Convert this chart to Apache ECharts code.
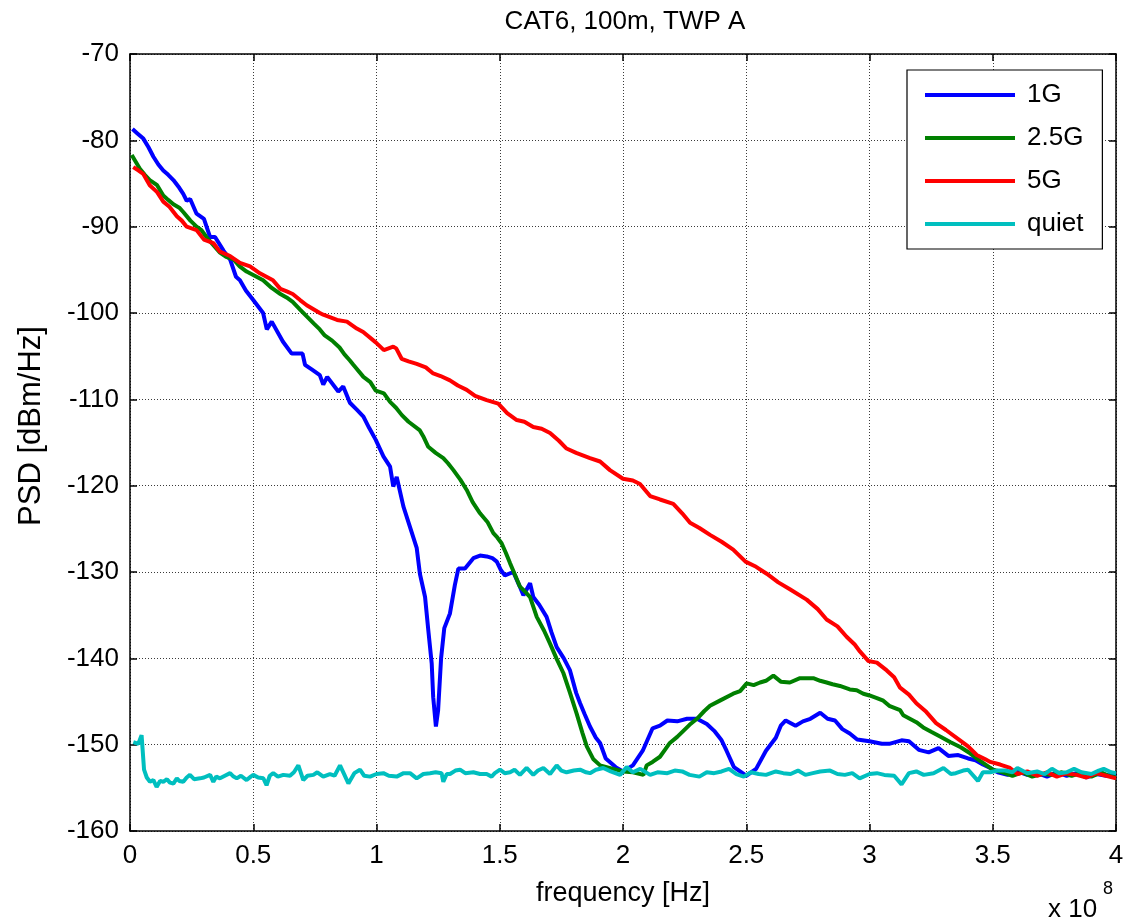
<!DOCTYPE html>
<html>
<head>
<meta charset="utf-8">
<script src="https://cdn.jsdelivr.net/npm/echarts@6/dist/echarts.min.js"></script>
<style>
html,body{margin:0;padding:0;background:#fff;}
#chart{width:1132px;height:923px;}
</style>
</head>
<body>
<div id="chart"></div>
<script>
// frequency in units of 1e8 Hz, PSD in dBm/Hz
const seriesNames = ['1G', '2.5G', '5G', 'quiet'];
const seriesColors = ['#0000ff', '#008000', '#ff0000', '#00bfbf'];

const data1G = [[0.01,-78.7],[0.03,-79.2],[0.054,-79.8],[0.075,-80.8],[0.095,-81.9],[0.115,-82.8],[0.135,-83.5],[0.155,-84.0],[0.176,-84.6],[0.2,-85.5],[0.216,-86.2],[0.23,-87.0],[0.244,-86.8],[0.27,-88.5],[0.3,-89.1],[0.325,-91.2],[0.345,-91.2],[0.38,-92.8],[0.406,-93.8],[0.43,-95.8],[0.446,-96.2],[0.47,-97.4],[0.5,-98.5],[0.54,-100.0],[0.555,-101.9],[0.575,-101.0],[0.62,-103.3],[0.656,-104.7],[0.70,-104.7],[0.71,-106.0],[0.74,-106.6],[0.77,-107.2],[0.784,-108.3],[0.80,-107.4],[0.845,-109.1],[0.865,-108.5],[0.892,-110.4],[0.92,-111.2],[0.947,-112.0],[0.97,-113.3],[0.997,-114.7],[1.028,-116.6],[1.055,-117.8],[1.068,-120.1],[1.082,-119.0],[1.109,-122.4],[1.136,-124.8],[1.163,-127.2],[1.176,-130.2],[1.197,-132.9],[1.21,-136.7],[1.224,-140.6],[1.23,-144.5],[1.241,-147.9],[1.25,-146.0],[1.262,-140.0],[1.275,-136.5],[1.298,-134.8],[1.318,-131.5],[1.332,-129.6],[1.359,-129.6],[1.393,-128.4],[1.42,-128.1],[1.447,-128.2],[1.47,-128.4],[1.488,-128.8],[1.505,-129.8],[1.521,-130.4],[1.555,-130.0],[1.58,-131.6],[1.596,-132.7],[1.623,-131.3],[1.636,-132.9],[1.66,-133.8],[1.69,-135.2],[1.71,-137.0],[1.731,-138.7],[1.76,-140.0],[1.785,-141.4],[1.81,-144.0],[1.826,-145.2],[1.845,-146.5],[1.866,-147.9],[1.89,-149.2],[1.907,-149.8],[1.93,-151.6],[1.97,-152.6],[2.0,-153.1],[2.04,-152.4],[2.08,-150.7],[2.12,-148.1],[2.15,-147.8],[2.18,-147.2],[2.22,-147.3],[2.26,-147.0],[2.3,-147.0],[2.34,-147.6],[2.37,-148.4],[2.4,-149.5],[2.42,-150.7],[2.45,-152.6],[2.5,-153.6],[2.54,-152.8],[2.58,-150.7],[2.62,-149.2],[2.64,-147.8],[2.66,-147.2],[2.7,-147.8],[2.73,-147.3],[2.76,-147.0],[2.8,-146.3],[2.83,-147.0],[2.86,-147.2],[2.89,-148.2],[2.92,-148.7],[2.95,-149.4],[3.0,-149.6],[3.05,-149.9],[3.08,-149.9],[3.13,-149.5],[3.16,-149.6],[3.2,-150.6],[3.24,-150.9],[3.28,-150.4],[3.32,-151.3],[3.36,-151.2],[3.4,-151.6],[3.43,-151.8],[3.46,-152.3],[3.49,-152.7],[3.52,-153.2],[3.56,-153.5],[3.6,-153.1],[3.64,-153.5],[3.68,-153.3],[3.72,-153.7],[3.76,-153.2],[3.8,-153.6],[3.84,-153.3],[3.88,-153.8],[3.92,-153.4],[3.96,-153.6],[4.0,-153.4]];

const data2_5G = [[0.007,-81.7],[0.04,-83.3],[0.06,-84.0],[0.08,-84.6],[0.11,-85.2],[0.135,-86.4],[0.155,-86.9],[0.176,-87.4],[0.2,-87.8],[0.216,-88.3],[0.245,-89.3],[0.27,-90.0],[0.29,-90.4],[0.31,-91.2],[0.34,-92.2],[0.365,-93.0],[0.39,-93.5],[0.42,-93.8],[0.445,-94.6],[0.473,-95.2],[0.5,-95.6],[0.54,-96.2],[0.575,-97.1],[0.61,-97.8],[0.635,-98.2],[0.66,-98.7],[0.69,-99.6],[0.717,-100.4],[0.745,-101.2],[0.77,-101.9],[0.79,-102.6],[0.82,-103.2],[0.85,-104.0],[0.87,-104.8],[0.892,-105.5],[0.906,-106.0],[0.947,-107.4],[0.975,-108.0],[0.997,-109.0],[1.03,-109.3],[1.055,-110.3],[1.08,-111.0],[1.102,-111.8],[1.13,-112.6],[1.176,-113.6],[1.19,-114.3],[1.21,-115.5],[1.24,-116.2],[1.271,-116.8],[1.29,-117.4],[1.312,-118.2],[1.34,-119.3],[1.366,-120.5],[1.39,-121.9],[1.42,-123.2],[1.45,-124.2],[1.474,-125.5],[1.49,-126.0],[1.508,-126.7],[1.525,-127.8],[1.542,-129.0],[1.56,-130.2],[1.582,-131.7],[1.6,-132.2],[1.623,-132.9],[1.65,-135.2],[1.68,-136.8],[1.704,-138.3],[1.73,-140.0],[1.758,-141.7],[1.785,-144.0],[1.812,-146.4],[1.835,-148.6],[1.853,-150.2],[1.88,-151.7],[1.907,-152.4],[1.96,-152.8],[2.0,-153.1],[2.04,-153.2],[2.083,-153.5],[2.096,-152.4],[2.12,-152.0],[2.15,-151.4],[2.17,-150.6],[2.19,-149.8],[2.22,-149.1],[2.245,-148.4],[2.27,-147.7],[2.3,-147.0],[2.33,-146.1],[2.353,-145.5],[2.393,-144.9],[2.447,-144.1],[2.475,-143.8],[2.502,-142.9],[2.53,-143.1],[2.556,-142.8],[2.58,-142.6],[2.61,-142.0],[2.64,-142.7],[2.677,-142.8],[2.718,-142.3],[2.745,-142.3],[2.772,-142.3],[2.8,-142.6],[2.826,-142.8],[2.85,-143.0],[2.88,-143.2],[2.92,-143.6],[2.948,-143.7],[2.975,-144.1],[3.0,-144.3],[3.03,-144.6],[3.056,-144.9],[3.08,-145.5],[3.124,-146.0],[3.137,-146.6],[3.19,-147.4],[3.218,-148.0],[3.25,-148.5],[3.29,-149.1],[3.327,-149.7],[3.37,-150.3],[3.408,-151.0],[3.44,-151.7],[3.475,-152.4],[3.5,-152.9],[3.54,-153.2],[3.58,-153.6],[3.62,-153.2],[3.66,-153.7],[3.7,-153.4],[3.74,-153.5],[3.78,-153.2],[3.82,-153.6],[3.86,-153.3],[3.9,-153.7],[3.94,-153.2],[3.97,-153.6],[4.0,-153.8]];

const data5G = [[0.013,-83.1],[0.035,-83.5],[0.054,-83.9],[0.08,-85.2],[0.11,-86.0],[0.135,-87.1],[0.16,-87.7],[0.19,-88.8],[0.21,-89.3],[0.23,-90.0],[0.27,-90.4],[0.3,-91.5],[0.338,-91.9],[0.365,-92.9],[0.406,-93.4],[0.446,-94.2],[0.487,-94.6],[0.527,-95.4],[0.58,-96.2],[0.61,-97.2],[0.636,-97.5],[0.66,-97.8],[0.69,-98.5],[0.717,-99.1],[0.77,-100.0],[0.784,-100.2],[0.84,-100.8],[0.88,-101.0],[0.92,-101.8],[0.946,-102.2],[0.997,-103.4],[1.03,-104.3],[1.068,-103.9],[1.08,-104.1],[1.102,-105.3],[1.13,-105.6],[1.163,-105.9],[1.2,-106.3],[1.23,-107.0],[1.26,-107.3],[1.298,-107.8],[1.33,-108.4],[1.366,-108.9],[1.4,-109.6],[1.447,-110.1],[1.494,-110.5],[1.53,-111.6],[1.569,-112.4],[1.6,-112.6],[1.636,-113.2],[1.67,-113.4],[1.704,-113.9],[1.74,-114.8],[1.771,-115.7],[1.81,-116.2],[1.866,-116.8],[1.907,-117.2],[1.947,-118.2],[2.0,-119.2],[2.04,-119.4],[2.069,-119.8],[2.11,-121.2],[2.15,-121.6],[2.204,-122.1],[2.24,-123.2],[2.272,-124.3],[2.31,-124.9],[2.353,-125.7],[2.4,-126.5],[2.447,-127.4],[2.497,-128.8],[2.54,-129.4],[2.583,-130.2],[2.63,-131.2],[2.677,-132.0],[2.745,-133.2],[2.79,-134.3],[2.826,-135.5],[2.87,-136.3],[2.907,-137.5],[2.94,-138.4],[2.961,-139.2],[2.995,-140.3],[3.03,-140.5],[3.07,-141.4],[3.1,-142.2],[3.124,-143.4],[3.16,-144.2],[3.19,-145.2],[3.23,-146.2],[3.27,-147.5],[3.31,-148.3],[3.367,-149.5],[3.4,-150.2],[3.435,-151.2],[3.47,-151.7],[3.49,-152.0],[3.53,-152.3],[3.57,-152.7],[3.6,-153.4],[3.64,-153.1],[3.68,-153.6],[3.72,-153.2],[3.76,-153.7],[3.8,-153.3],[3.84,-153.5],[3.88,-153.8],[3.92,-153.3],[3.96,-153.6],[4.0,-153.9]];

const dataQuiet = [[0.0135,-149.7],[0.034,-149.9],[0.047,-148.9],[0.057,-152.9],[0.068,-153.8],[0.081,-154.3],[0.095,-154.1],[0.108,-154.9],[0.122,-154.2],[0.135,-154.3],[0.15,-154.0],[0.162,-154.4],[0.176,-154.5],[0.19,-153.9],[0.2,-154.2],[0.216,-154.3],[0.23,-153.8],[0.243,-153.5],[0.26,-154.0],[0.284,-153.9],[0.3,-153.8],[0.325,-153.5],[0.338,-154.3],[0.35,-153.7],[0.365,-153.9],[0.385,-153.6],[0.406,-153.3],[0.42,-153.7],[0.433,-153.9],[0.45,-153.6],[0.473,-154.1],[0.49,-153.7],[0.5,-153.5],[0.52,-153.8],[0.541,-153.9],[0.554,-154.7],[0.567,-153.6],[0.581,-153.3],[0.6,-153.7],[0.622,-153.5],[0.649,-153.6],[0.665,-153.2],[0.683,-152.4],[0.703,-154.1],[0.72,-153.6],[0.744,-153.5],[0.76,-153.2],[0.784,-153.7],[0.811,-153.4],[0.83,-153.6],[0.852,-152.4],[0.87,-153.5],[0.886,-154.5],[0.91,-153.3],[0.933,-152.9],[0.95,-153.6],[0.974,-153.7],[1.0,-153.4],[1.028,-153.3],[1.05,-153.6],[1.082,-153.7],[1.11,-153.3],[1.136,-153.3],[1.163,-153.9],[1.19,-153.4],[1.217,-153.3],[1.24,-153.2],[1.264,-153.3],[1.271,-154.3],[1.285,-153.4],[1.298,-153.4],[1.32,-153.0],[1.339,-152.9],[1.36,-153.3],[1.393,-153.2],[1.42,-153.4],[1.447,-153.4],[1.467,-153.7],[1.48,-153.3],[1.501,-152.9],[1.52,-153.3],[1.542,-153.2],[1.56,-152.9],[1.582,-153.5],[1.609,-152.7],[1.636,-153.5],[1.655,-153.0],[1.677,-152.7],[1.704,-153.4],[1.731,-152.4],[1.75,-153.0],[1.771,-153.2],[1.8,-153.0],[1.826,-152.9],[1.85,-153.2],[1.866,-153.3],[1.89,-152.9],[1.92,-152.7],[1.95,-153.1],[1.988,-153.5],[2.015,-152.6],[2.04,-153.2],[2.07,-152.8],[2.11,-153.5],[2.14,-153.2],[2.18,-153.3],[2.21,-153.0],[2.24,-153.1],[2.27,-153.5],[2.31,-153.7],[2.34,-153.2],[2.37,-153.3],[2.4,-153.1],[2.43,-152.8],[2.46,-153.4],[2.49,-153.7],[2.52,-153.2],[2.55,-153.4],[2.58,-153.5],[2.62,-153.1],[2.65,-153.3],[2.68,-153.4],[2.71,-153.0],[2.74,-153.5],[2.77,-153.3],[2.8,-153.1],[2.84,-153.0],[2.87,-153.4],[2.9,-153.5],[2.93,-153.3],[2.96,-153.9],[3.0,-153.4],[3.03,-153.3],[3.06,-153.5],[3.1,-153.6],[3.13,-154.6],[3.16,-153.3],[3.19,-153.1],[3.22,-153.5],[3.26,-153.3],[3.3,-152.7],[3.33,-153.4],[3.35,-153.3],[3.38,-153.0],[3.4,-152.9],[3.44,-154.2],[3.46,-153.2],[3.49,-153.2],[3.52,-153.0],[3.55,-153.0],[3.58,-153.2],[3.6,-152.7],[3.64,-153.3],[3.68,-153.1],[3.71,-153.4],[3.74,-152.8],[3.77,-153.3],[3.8,-153.2],[3.83,-152.8],[3.86,-153.2],[3.9,-153.4],[3.93,-153.0],[3.95,-152.8],[3.98,-153.2],[4.0,-153.3]];

const titleText = 'CAT6, 100m, TWP A';
const xAxisName = 'frequency [Hz]';
const yAxisName = 'PSD [dBm/Hz]';
const xScaleText = 'x 10';
const xScaleExp = '8';

const FONT = '"Liberation Sans", Arial, Helvetica, sans-serif';
const allData = [data1G, data2_5G, data5G, dataQuiet];

const chart = echarts.init(document.getElementById('chart'), null, {renderer: 'canvas'});

const gridLine = {show: true, lineStyle: {color: '#3a3a3a', width: 1, type: [1, 2]}};
const tickStyle = {show: true, inside: true, length: 7, lineStyle: {color: '#000', width: 1.5}};

chart.setOption({
  backgroundColor: '#ffffff',
  animation: false,
  title: {
    text: titleText, left: 620, top: 4, textAlign: 'center',
    textStyle: {fontFamily: FONT, fontSize: 26, fontWeight: 'normal', color: '#000'}
  },
  legend: {
    data: seriesNames,
    orient: 'vertical',
    left: 907, top: 70,
    backgroundColor: '#fff',
    borderColor: '#000', borderWidth: 1.2,
    padding: [12, 19, 12, 18],
    itemGap: 17,
    itemWidth: 90, itemHeight: 4,
    icon: 'rect',
    textStyle: {fontFamily: FONT, fontSize: 26, color: '#000', padding: [0, 0, 0, 7]}
  },
  grid: {left: 130, right: 16, top: 54, bottom: 92, containLabel: false},
  xAxis: [{
    type: 'value', min: 0, max: 4, interval: 0.5,
    name: xAxisName, nameLocation: 'middle', nameGap: 49,
    nameTextStyle: {fontFamily: FONT, fontSize: 27, color: '#000'},
    axisLine: {show: true, onZero: false, lineStyle: {color: '#000', width: 1.5}},
    axisTick: tickStyle,
    axisLabel: {fontFamily: FONT, fontSize: 26, color: '#000', margin: 12},
    splitLine: gridLine
  }, {
    type: 'value', min: 0, max: 4, interval: 0.5, position: 'top',
    axisLine: {show: true, onZero: false, lineStyle: {color: '#000', width: 1.5}},
    axisTick: tickStyle, axisLabel: {show: false}, splitLine: {show: false}
  }],
  yAxis: [{
    type: 'value', min: -160, max: -70, interval: 10,
    axisLine: {show: true, onZero: false, lineStyle: {color: '#000', width: 1.5}},
    axisTick: tickStyle,
    axisLabel: {fontFamily: FONT, fontSize: 26, color: '#000', margin: 11},
    splitLine: gridLine
  }, {
    type: 'value', min: -160, max: -70, interval: 10, position: 'right',
    axisLine: {show: true, onZero: false, lineStyle: {color: '#000', width: 1.5}},
    axisTick: tickStyle, axisLabel: {show: false}, splitLine: {show: false}
  }],
  graphic: [{
    type: 'text', x: 31, y: 426, rotation: Math.PI / 2,
    style: {text: yAxisName, font: '31px ' + FONT, fill: '#000', align: 'center', verticalAlign: 'middle'}
  }, {
    type: 'text', left: 1048, top: 897,
    style: {text: xScaleText, font: '26px ' + FONT, fill: '#000'}
  }, {
    type: 'text', left: 1103, top: 880,
    style: {text: xScaleExp, font: '18px ' + FONT, fill: '#000'}
  }],
  series: seriesNames.map((n, i) => ({
    name: n, type: 'line', data: allData[i],
    xAxisIndex: 0, yAxisIndex: 0,
    showSymbol: false, symbol: 'none',
    lineStyle: {color: seriesColors[i], width: 4},
    itemStyle: {color: seriesColors[i]},
    z: 2 + i
  }))
});
</script>
</body>
</html>
